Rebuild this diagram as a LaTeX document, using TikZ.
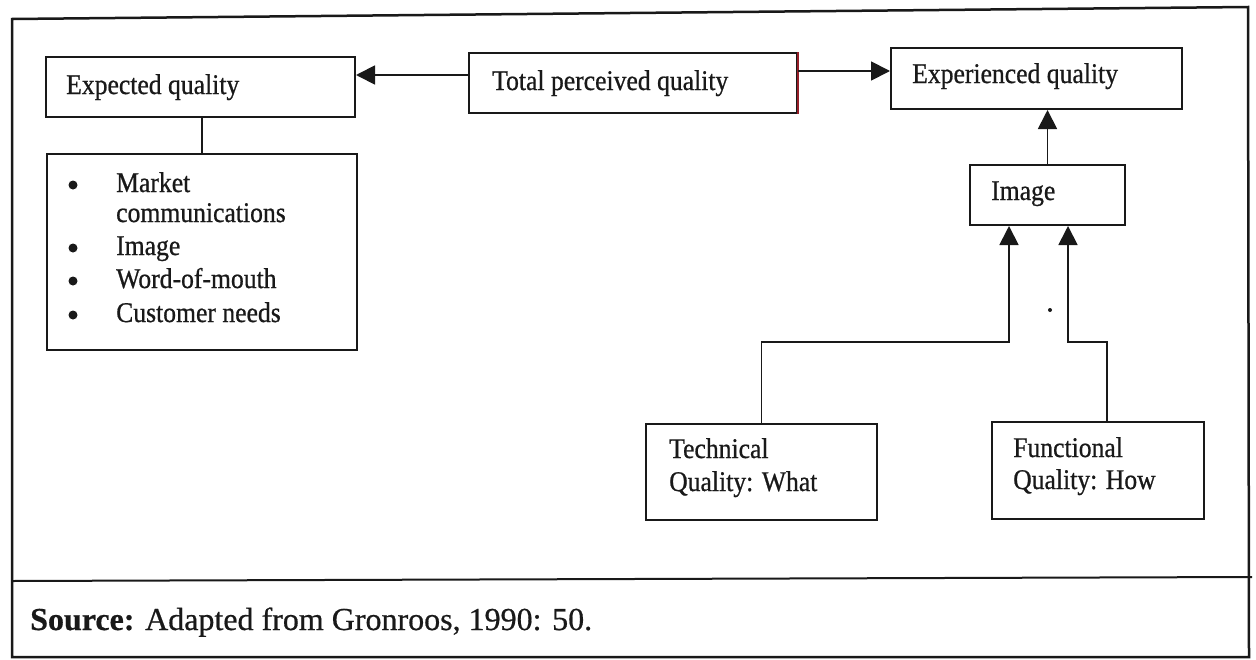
\documentclass[tikz,border=0pt]{standalone}
\usepackage{fontspec}
\setmainfont[FakeStretch=0.9,FakeBold=0.7]{Liberation Serif}
\newfontfamily\srcfont[FakeBold=0.6]{Liberation Serif}
\usetikzlibrary{arrows.meta,calc}
\newcommand\boxfont{\fontsize{28.5}{33}\selectfont}
\definecolor{ink}{RGB}{25,25,25}
\definecolor{edgered}{RGB}{150,30,40}
\begin{document}
\begin{tikzpicture}[x=1pt,y=-1pt,
  box/.style={draw=ink, line width=2pt, rectangle, anchor=north west, inner sep=0pt},
  txt/.style={anchor=base west, inner sep=0pt, font=\boxfont, text=ink},
  dot/.style={circle, fill=ink, inner sep=0pt, minimum size=9pt},
  arr/.style={draw=ink, line width=1.8pt, -{Triangle[length=19pt,width=19pt]}},
  link/.style={draw=ink, line width=1.8pt},
  frame/.style={draw=ink, line width=2.5pt}
]
\useasboundingbox (0,0) rectangle (1256,659);
\fill[white] (0,0) rectangle (1256,659);

% outer frame and the rule above the source line
\coordinate (fTL) at (12,19);
\coordinate (fTR) at (1248,7);
\coordinate (fBR) at (1249,657);
\coordinate (fBL) at (12,657);
\coordinate (dL) at (12,581);
\coordinate (dR) at (1252,577);
\draw[frame] (fTL) -- (fTR) -- (fBR) -- (fBL) -- cycle;
\draw[frame, line width=2pt] (dL) -- (dR);

% boxes
\node[box, minimum width=309pt, minimum height=60pt] (exp) at (45,56) {};
\node[box, minimum width=310pt, minimum height=196pt] (bul) at (46,153) {};
\node[box, minimum width=328pt, minimum height=60pt] (tot) at (468,52) {};
\node[box, minimum width=291pt, minimum height=61pt] (expd) at (890,47) {};
\node[box, minimum width=155pt, minimum height=60pt] (img) at (969,164) {};
\node[box, minimum width=231pt, minimum height=96pt] (tech) at (645,423) {};
\node[box, minimum width=212pt, minimum height=97pt] (func) at (991,421) {};
\draw[edgered, line width=1.6pt] (tot.north east) -- (tot.south east);

% box texts
\node[txt] (expT) at (66,94) {Expected quality};
\node[txt] (totT) at (492,90) {Total perceived quality};
\node[txt] (expdT) at (912,83) {Experienced quality};
\node[txt] (imgT) at (991,200) {Image};
\node[txt] (techA) at (669,458) {Technical};
\node[txt] (techB) at (669,491) {Quality: What};
\node[txt] (funcA) at (1013,457) {Functional};
\node[txt] (funcB) at (1013,489) {Quality: How};

% bullet list
\node[dot] (b1) at (73,185) {};
\node[txt] (l1) at (116,192) {Market};
\node[txt] (l1b) at (116,222) {communications};
\node[dot] (b2) at (73,248) {};
\node[txt] (l2) at (116,255) {Image};
\node[dot] (b3) at (73,281) {};
\node[txt] (l3) at (116,288) {Word-of-mouth};
\node[dot] (b4) at (73,315) {};
\node[txt] (l4) at (116,322) {Customer needs};

% source line
\node[anchor=base west, inner sep=0pt, font=\srcfont\fontsize{32}{37}\selectfont, text=ink] (src) at (30,630)
  {\textbf{Source:} Adapted from Gronroos, 1990: 50.};

% connectors
\draw[link] (exp.south -| bul.north) -- (bul.north);
\draw[arr] ([yshift=8pt]tot.west) -- ([yshift=8pt]tot.west -| exp.east);
\draw[arr] ([yshift=12pt]tot.east) -- ([yshift=12pt]tot.east -| expd.west);
\draw[arr] (img.north) -- (img.north |- expd.south);

\coordinate (jL) at (1009,342);
\coordinate (kR) at (1107,342);
\coordinate (jR) at (1068,342);
\draw[arr] (tech.north) |- (jL) -- (jL |- img.south);
\draw[arr] (kR |- func.north) -- (kR) -- (jR) -- (jR |- img.south);

% small speck beside the right riser
\fill[ink] (1050,310) circle (2pt);
\end{tikzpicture}
\end{document}
